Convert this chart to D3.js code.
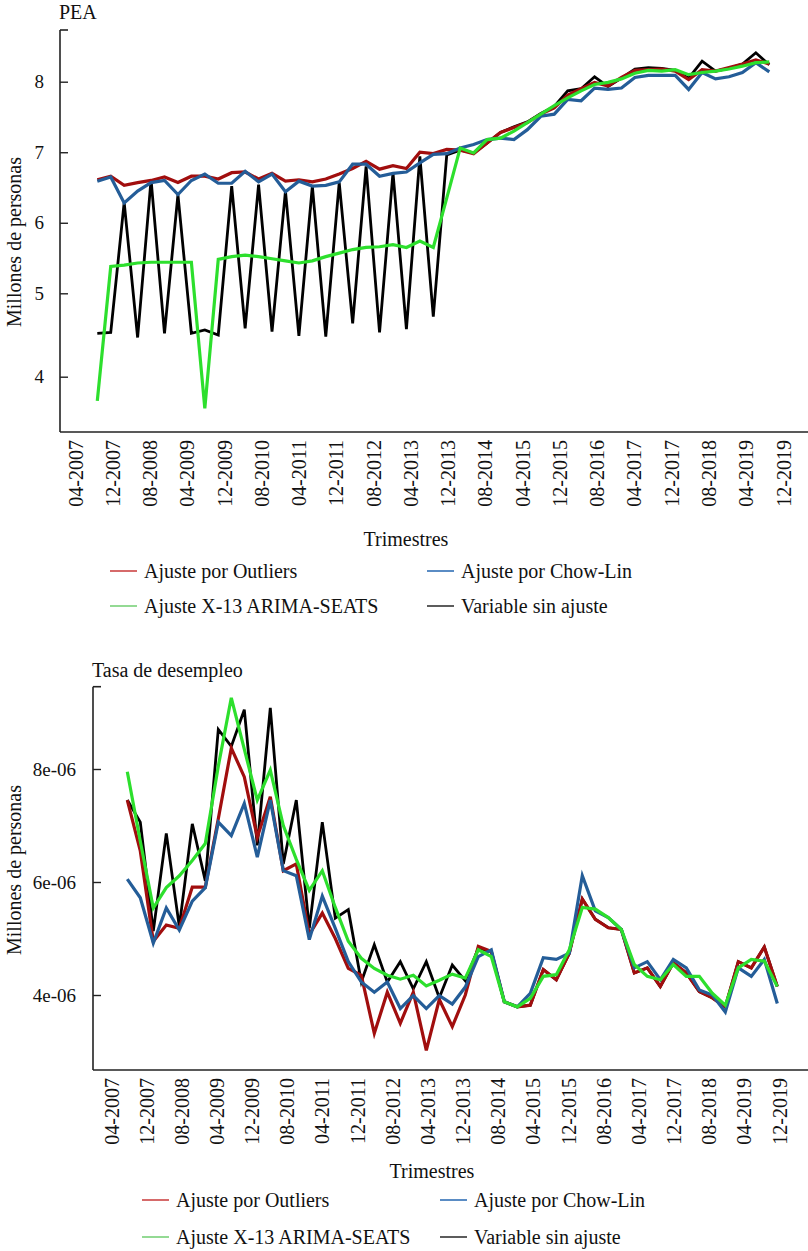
<!DOCTYPE html>
<html>
<head>
<meta charset="utf-8">
<script src="https://cdn.jsdelivr.net/npm/d3@7"></script>
<style>
  html, body { margin: 0; padding: 0; background: #fff; }
  svg { display: block; font-family: "Liberation Serif", "Times New Roman", serif; }
</style>
</head>
<body>
<svg id="chart" width="808" height="1251"></svg>
<script>
// Quarterly periods, 2007 Q2 – 2019 Q4
const quarters = [
  "2007-T2","2007-T3","2007-T4",
  "2008-T1","2008-T2","2008-T3","2008-T4",
  "2009-T1","2009-T2","2009-T3","2009-T4",
  "2010-T1","2010-T2","2010-T3","2010-T4",
  "2011-T1","2011-T2","2011-T3","2011-T4",
  "2012-T1","2012-T2","2012-T3","2012-T4",
  "2013-T1","2013-T2","2013-T3","2013-T4",
  "2014-T1","2014-T2","2014-T3","2014-T4",
  "2015-T1","2015-T2","2015-T3","2015-T4",
  "2016-T1","2016-T2","2016-T3","2016-T4",
  "2017-T1","2017-T2","2017-T3","2017-T4",
  "2018-T1","2018-T2","2018-T3","2018-T4",
  "2019-T1","2019-T2","2019-T3","2019-T4"
];

// Date labels shown under each x axis
const tickLabels = [
  "04-2007","12-2007","08-2008","04-2009","12-2009","08-2010","04-2011",
  "12-2011","08-2012","04-2013","12-2013","08-2014","04-2015","12-2015",
  "08-2016","04-2017","12-2017","08-2018","04-2019","12-2019"
];

const seriesNames = ["Ajuste por Outliers", "Ajuste por Chow-Lin", "Ajuste X-13 ARIMA-SEATS", "Variable sin ajuste"];

// PEA (millones de personas)
const peaOutliers = [
  6.61,6.66,6.53,6.57,6.60,6.65,6.57,6.66,6.66,6.62,
  6.71,6.72,6.62,6.70,6.59,6.61,6.58,6.62,6.69,6.77,
  6.87,6.76,6.81,6.77,7.00,6.98,7.04,7.03,6.98,7.13,
  7.28,7.35,7.42,7.54,7.63,7.81,7.90,7.99,7.94,8.06,
  8.16,8.17,8.18,8.15,8.03,8.17,8.15,8.20,8.25,8.31,
  8.25
];
const peaChowLin = [
  6.59,6.65,6.28,6.45,6.57,6.60,6.40,6.60,6.69,6.56,
  6.56,6.73,6.58,6.69,6.44,6.59,6.52,6.53,6.58,6.83,
  6.83,6.66,6.70,6.72,6.85,6.97,6.98,7.06,7.11,7.18,
  7.20,7.18,7.32,7.51,7.54,7.75,7.73,7.91,7.89,7.91,
  8.06,8.09,8.09,8.09,7.89,8.13,8.04,8.07,8.13,8.27,
  8.14
];
const peaX13 = [
  3.71,5.38,5.40,5.43,5.44,5.44,5.44,5.44,3.62,5.48,
  5.52,5.54,5.52,5.49,5.46,5.43,5.46,5.52,5.57,5.62,
  5.65,5.66,5.69,5.65,5.74,5.65,6.35,7.06,6.99,7.18,
  7.20,7.30,7.42,7.54,7.66,7.77,7.87,7.96,7.99,8.04,
  8.12,8.16,8.15,8.17,8.10,8.13,8.15,8.18,8.22,8.27,
  8.28
];
const peaRaw = [
  4.52,4.53,6.29,4.47,6.61,4.52,6.40,4.52,4.56,4.50,
  6.52,4.58,6.54,4.54,6.45,4.49,6.52,4.48,6.57,4.64,
  6.80,4.53,6.71,4.57,6.94,4.72,6.96,7.03,6.99,7.13,
  7.28,7.36,7.43,7.55,7.65,7.87,7.90,8.07,7.93,8.05,
  8.18,8.20,8.19,8.16,8.05,8.29,8.15,8.19,8.25,8.41,
  8.24
];
const peaTicks = [4, 5, 6, 7, 8];
const peaTickLabels = ["4", "5", "6", "7", "8"];

// Tasa de desempleo
const tdOutliers = [
  7.45e-6,6.55e-6,4.95e-6,5.24e-6,5.18e-6,5.91e-6,5.91e-6,7.12e-6,8.37e-6,7.86e-6,
  6.79e-6,7.51e-6,6.20e-6,6.32e-6,5.07e-6,5.45e-6,5.00e-6,4.47e-6,4.35e-6,3.32e-6,
  4.05e-6,3.50e-6,4.05e-6,3.02e-6,3.92e-6,3.44e-6,4.00e-6,4.86e-6,4.77e-6,3.88e-6,
  3.79e-6,3.82e-6,4.45e-6,4.27e-6,4.74e-6,5.70e-6,5.34e-6,5.19e-6,5.16e-6,4.39e-6,
  4.48e-6,4.15e-6,4.57e-6,4.39e-6,4.06e-6,3.95e-6,3.79e-6,4.59e-6,4.48e-6,4.85e-6,
  4.15e-6
];
const tdChowLin = [
  6.05e-6,5.72e-6,4.92e-6,5.54e-6,5.15e-6,5.66e-6,5.90e-6,7.06e-6,6.82e-6,7.39e-6,
  6.44e-6,7.45e-6,6.20e-6,6.11e-6,4.98e-6,5.75e-6,5.18e-6,4.59e-6,4.23e-6,4.05e-6,
  4.23e-6,3.76e-6,3.99e-6,3.76e-6,3.99e-6,3.84e-6,4.14e-6,4.68e-6,4.80e-6,3.88e-6,
  3.79e-6,4.03e-6,4.66e-6,4.63e-6,4.74e-6,6.11e-6,5.49e-6,5.37e-6,5.16e-6,4.48e-6,
  4.59e-6,4.27e-6,4.63e-6,4.48e-6,4.09e-6,4.00e-6,3.70e-6,4.48e-6,4.33e-6,4.63e-6,
  3.85e-6
];
const tdX13 = [
  7.95e-6,6.72e-6,5.54e-6,5.90e-6,6.11e-6,6.38e-6,6.68e-6,8.05e-6,9.26e-6,8.35e-6,
  7.45e-6,7.98e-6,7.00e-6,6.40e-6,5.85e-6,6.20e-6,5.55e-6,4.95e-6,4.65e-6,4.47e-6,
  4.35e-6,4.28e-6,4.35e-6,4.16e-6,4.26e-6,4.37e-6,4.30e-6,4.80e-6,4.68e-6,3.88e-6,
  3.79e-6,3.94e-6,4.33e-6,4.36e-6,4.80e-6,5.55e-6,5.52e-6,5.37e-6,5.16e-6,4.54e-6,
  4.33e-6,4.27e-6,4.54e-6,4.33e-6,4.33e-6,4.03e-6,3.82e-6,4.48e-6,4.63e-6,4.60e-6,
  4.15e-6
];
const tdRaw = [
  7.45e-6,7.06e-6,5.13e-6,6.86e-6,5.21e-6,7.03e-6,6.02e-6,8.70e-6,8.40e-6,9.05e-6,
  6.65e-6,9.08e-6,6.32e-6,7.45e-6,5.18e-6,7.06e-6,5.36e-6,5.51e-6,4.23e-6,4.89e-6,
  4.23e-6,4.59e-6,4.11e-6,4.59e-6,3.95e-6,4.53e-6,4.25e-6,4.83e-6,4.77e-6,3.88e-6,
  3.79e-6,3.82e-6,4.45e-6,4.27e-6,4.74e-6,5.70e-6,5.34e-6,5.19e-6,5.16e-6,4.39e-6,
  4.48e-6,4.15e-6,4.57e-6,4.39e-6,4.06e-6,3.95e-6,3.79e-6,4.59e-6,4.48e-6,4.85e-6,
  4.15e-6
];
const tdTicks = [4e-6, 6e-6, 8e-6];
const tdTickLabels = ["4e-06", "6e-06", "8e-06"];

// Styling
const lineColors  = ["#a10e0e", "#245d98", "#2ddf2d", "#000000"];
const legendColors = ["#d66a6a", "#5a8cc4", "#94da94", "#5c5c5c"];
const SERIF = "Liberation Serif, Times New Roman, serif";
const FONT = 20;        // titles, legend
const TICK_FONT = 19;   // y tick labels
const XTICK_FONT = 20;  // rotated date labels

const svg = d3.select("#chart");

function drawPanel(p) {
  const g = svg.append("g").attr("font-family", SERIF);
  const x = d3.scalePoint().domain(quarters).range(p.xRange);
  const y = p.y;

  // Axis lines
  g.append("line")
    .attr("x1", p.left).attr("x2", p.left)
    .attr("y1", p.top).attr("y2", p.bottom)
    .attr("stroke", "#222").attr("stroke-width", 1.6);
  g.append("line")
    .attr("x1", p.left).attr("x2", p.left + 8)
    .attr("y1", p.top).attr("y2", p.top)
    .attr("stroke", "#222").attr("stroke-width", 1.6);
  g.append("line")
    .attr("x1", p.left).attr("x2", 808)
    .attr("y1", p.bottom).attr("y2", p.bottom)
    .attr("stroke", "#222").attr("stroke-width", 1.6);

  // Y axis ticks (pointing inward)
  const yAxis = d3.axisLeft(y)
    .tickValues(p.yTicks)
    .tickFormat((d, i) => p.yTickLabels[i])
    .tickSize(-8)
    .tickPadding(p.tickPad);
  const ya = g.append("g").attr("transform", `translate(${p.left},0)`).call(yAxis);
  ya.attr("font-family", SERIF);
  ya.select(".domain").remove();
  ya.selectAll(".tick line").attr("stroke", "#222").attr("stroke-width", 1.4);
  ya.selectAll(".tick text")
    .attr("font-family", SERIF)
    .attr("font-size", TICK_FONT).attr("fill", "#111");

  // X axis date labels, rotated
  const xl = d3.scalePoint().domain(tickLabels).range(p.labelRange);
  const xAxis = d3.axisBottom(xl).tickSize(0).tickPadding(0);
  const xa = g.append("g").attr("transform", `translate(0,${p.bottom})`).call(xAxis);
  xa.attr("font-family", SERIF);
  xa.select(".domain").remove();
  xa.selectAll(".tick text")
    .attr("font-family", SERIF)
    .attr("font-size", XTICK_FONT).attr("fill", "#111")
    .attr("text-anchor", "end")
    .attr("transform", "rotate(-90)")
    .attr("x", -8).attr("y", 0).attr("dy", "0.35em");

  // Titles
  g.append("text").attr("x", p.left - 1).attr("y", p.titleY)
    .attr("font-size", FONT).attr("fill", "#111").text(p.title);
  g.append("text")
    .attr("transform", `translate(${p.yTitleX},${p.yTitleY}) rotate(-90)`)
    .attr("text-anchor", "middle").attr("font-size", FONT).attr("fill", "#111")
    .text("Millones de personas");
  g.append("text").attr("x", p.xTitleX).attr("y", p.xTitleY)
    .attr("text-anchor", "middle").attr("font-size", FONT).attr("fill", "#111")
    .text("Trimestres");

  // Series: raw first, adjusted series on top
  const line = d3.line().x((d, i) => x(quarters[i])).y(d => y(d));
  const order = [3, 0, 1, 2];
  order.forEach(k => {
    g.append("path")
      .datum(p.series[k])
      .attr("fill", "none")
      .attr("stroke", lineColors[k])
      .attr("stroke-width", k === 3 ? 2.8 : 3.2)
      .attr("stroke-linejoin", "miter")
      .attr("d", line);
  });

  // Legend (2 x 2)
  seriesNames.forEach((name, k) => {
    const col = k % 2, row = Math.floor(k / 2);
    const lx = p.legendX[col], ly = p.legendY[row];
    g.append("line")
      .attr("x1", lx).attr("x2", lx + 27)
      .attr("y1", ly).attr("y2", ly)
      .attr("stroke", legendColors[k]).attr("stroke-width", 2);
    g.append("text")
      .attr("x", lx + 34).attr("y", ly).attr("dy", "0.33em")
      .attr("font-size", FONT).attr("fill", "#111")
      .text(name);
  });
}

drawPanel({
  title: "PEA", titleY: 19,
  left: 60, top: 30, bottom: 432,
  xRange: [97.3, 769.3],
  labelRange: [75, 783],
  y: d3.scaleLinear().domain([4, 5, 8]).range([376.7, 293.3, 81.7]),
  yTicks: peaTicks, yTickLabels: peaTickLabels, tickPad: 16,
  yTitleX: 21, yTitleY: 242,
  xTitleX: 406, xTitleY: 546,
  series: [peaOutliers, peaChowLin, peaX13, peaRaw],
  legendX: [110, 427], legendY: [571, 606]
});

drawPanel({
  title: "Tasa de desempleo", titleY: 677,
  left: 93, top: 686.7, bottom: 1070,
  xRange: [127.3, 777.3],
  labelRange: [111, 779],
  y: d3.scaleLinear().domain([4e-6, 8e-6]).range([995, 769]),
  yTicks: tdTicks, yTickLabels: tdTickLabels, tickPad: 17,
  yTitleX: 21, yTitleY: 870,
  xTitleX: 432, xTitleY: 1178,
  series: [tdOutliers, tdChowLin, tdX13, tdRaw],
  legendX: [142, 440], legendY: [1200, 1237]
});
</script>
</body>
</html>
